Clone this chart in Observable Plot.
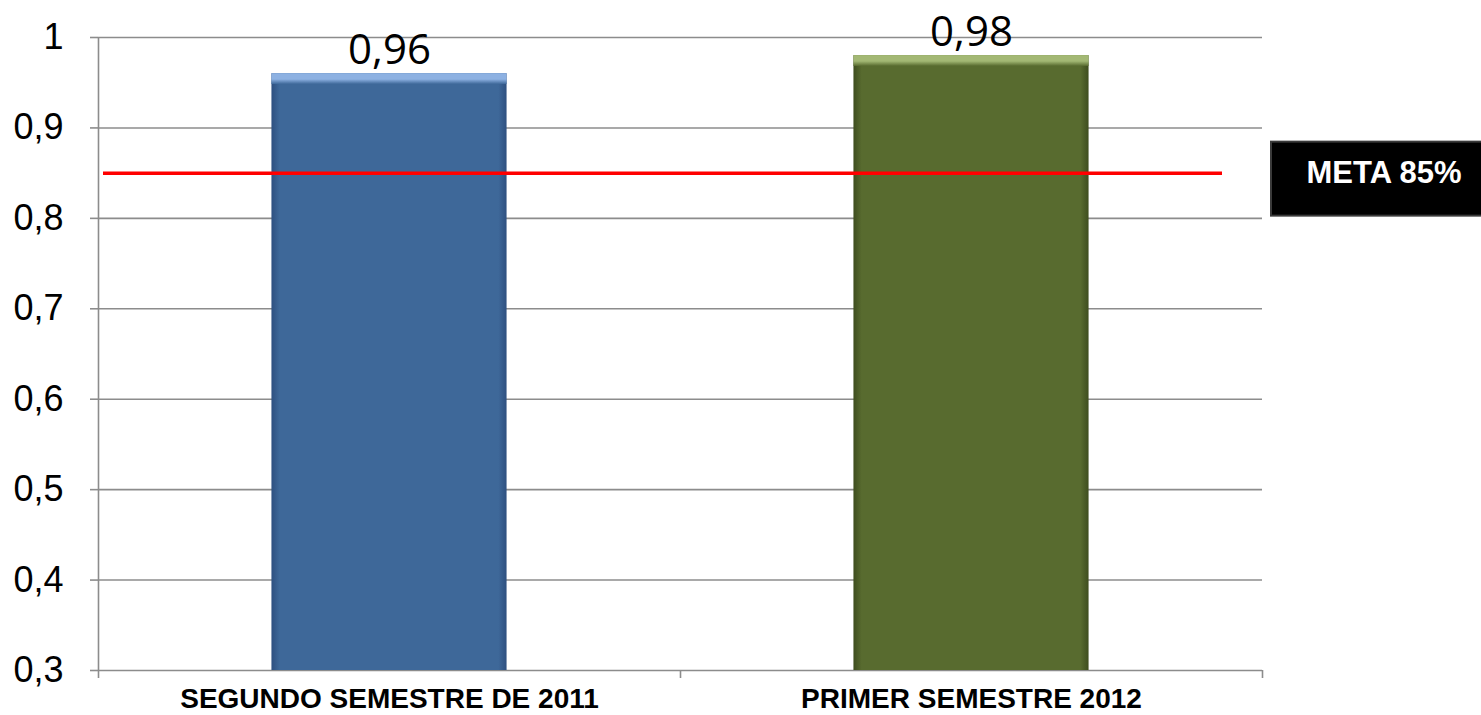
<!DOCTYPE html>
<html>
<head>
<meta charset="utf-8">
<script src="https://cdn.jsdelivr.net/npm/d3@7"></script>
<script src="https://cdn.jsdelivr.net/npm/@observablehq/plot@0.6"></script>
<style>
  html, body { margin: 0; padding: 0; background: #fff; overflow: hidden; }
  #chart svg { display: block; }
</style>
</head>
<body>
<div id="chart"></div>
<script>
// ---- data ----
const categories = ["SEGUNDO SEMESTRE DE 2011", "PRIMER SEMESTRE 2012"];
const values = [0.96, 0.98];
const valueLabels = ["0,96", "0,98"];
const barColors = ["#3E6899", "#586B2F"];
const bevelColors = ["#8DB1E2", "#A3B874"];
const edgeColors = ["#2E5080", "#3E4D1E"];
const yTicks = [0.3, 0.4, 0.5, 0.6, 0.7, 0.8, 0.9, 1];
const yTickLabels = ["0,3", "0,4", "0,5", "0,6", "0,7", "0,8", "0,9", "1"];
const goal = 0.85;
const goalLabel = "META 85%";

// ---- layout constants ----
const barWidth = 0.404;     // fraction of category slot
const bevelDepth = 0.012;   // depth of the light top bevel, in y units
const gridColor = "#8C8C8C";

const data = categories.map((c, i) => ({
  i, category: c, value: values[i], label: valueLabels[i],
  x1: i + 0.5 - barWidth / 2, x2: i + 0.5 + barWidth / 2,
  body: `url(#body${i})`, bevel: `url(#bevel${i})`
}));

const svg = Plot.plot({
  width: 1481,
  height: 715,
  marginLeft: 98,
  marginRight: 219,
  marginTop: 37,
  marginBottom: 45,
  style: { fontFamily: "'Liberation Sans', Arial, sans-serif", color: "#000", background: "transparent", overflow: "visible" },
  x: { domain: [0, categories.length], axis: null },
  y: { domain: [yTicks[0], yTicks[yTicks.length - 1]], axis: null },
  color: { type: "identity" },
  marks: [
    Plot.gridY(yTicks, { stroke: gridColor, strokeOpacity: 1, strokeWidth: 1.6 }),
    Plot.axisY(yTicks, {
      tickSize: 8, tickPadding: 27, stroke: gridColor, strokeWidth: 1.6,
      tickFormat: (d, i) => yTickLabels[i], fontSize: 36, fill: "#000", label: null
    }),
    Plot.ruleX([0], { stroke: gridColor, strokeWidth: 1.6 }),
    Plot.axisX(d3.range(categories.length + 1), {
      tickSize: 8, stroke: gridColor, strokeWidth: 1.6, tickFormat: () => "", label: null
    }),
    Plot.axisX(categories.map((c, i) => i + 0.5), {
      tickSize: 0, tickPadding: 18, tickFormat: d => categories[Math.floor(d)],
      fontSize: 28, fontWeight: "bold", fill: "#000", label: null
    }),
    Plot.rectY(data, { x1: "x1", x2: "x2", y1: yTicks[0], y2: "value", fill: "body", ariaLabel: "bars" }),
    Plot.rectY(data, { x1: "x1", x2: "x2", y1: d => d.value - bevelDepth, y2: "value", fill: "bevel", ariaLabel: "bevels" }),
    Plot.ruleY([goal], { stroke: "#FF0000", strokeWidth: 3.5, insetLeft: 5, insetRight: 40 }),
    Plot.text(data, {
      x: d => d.i + 0.5, y: "value", text: "label", lineAnchor: "bottom", dy: -10,
      fontSize: 42, fontFamily: "'Open Sans', sans-serif", fill: "#000"
    }),
    Plot.rectY([goal], {
      x1: categories.length, x2: categories.length, y1: d => d, y2: d => d,
      insetLeft: 9, insetRight: -260, insetTop: -31, insetBottom: -43,
      fill: "#000", stroke: "#3a3a3a", strokeWidth: 2, ariaLabel: "meta-box"
    }),
    Plot.text([goalLabel], {
      x: categories.length, y: goal, text: d => d, textAnchor: "start", dx: 44,
      fontSize: 31, fontWeight: "bold", fill: "#fff"
    })
  ]
});

// gradient definitions for the bar bevels
const defs = d3.select(svg).insert("defs", ":first-child");
barColors.forEach((c, i) => {
  const g = defs.append("linearGradient").attr("id", `body${i}`).attr("x1", 0).attr("x2", 1).attr("y1", 0).attr("y2", 0);
  [[0, edgeColors[i]], [0.035, c], [0.965, c], [1, edgeColors[i]]].forEach(([o, col]) =>
    g.append("stop").attr("offset", o).attr("stop-color", col));
  const b = defs.append("linearGradient").attr("id", `bevel${i}`).attr("x1", 0).attr("x2", 0).attr("y1", 0).attr("y2", 1);
  [[0, bevelColors[i]], [0.55, bevelColors[i]], [1, c]].forEach(([o, col]) =>
    b.append("stop").attr("offset", o).attr("stop-color", col));
});
svg.querySelectorAll('[aria-label="bars"]').forEach(g => g.style.filter = "drop-shadow(2px 3px 3px rgba(0,0,0,0.35))");
svg.querySelectorAll('[aria-label="meta-box"]').forEach(g => g.style.filter = "drop-shadow(3px 4px 4px rgba(0,0,0,0.45))");

document.getElementById("chart").appendChild(svg);
</script>
</body>
</html>
